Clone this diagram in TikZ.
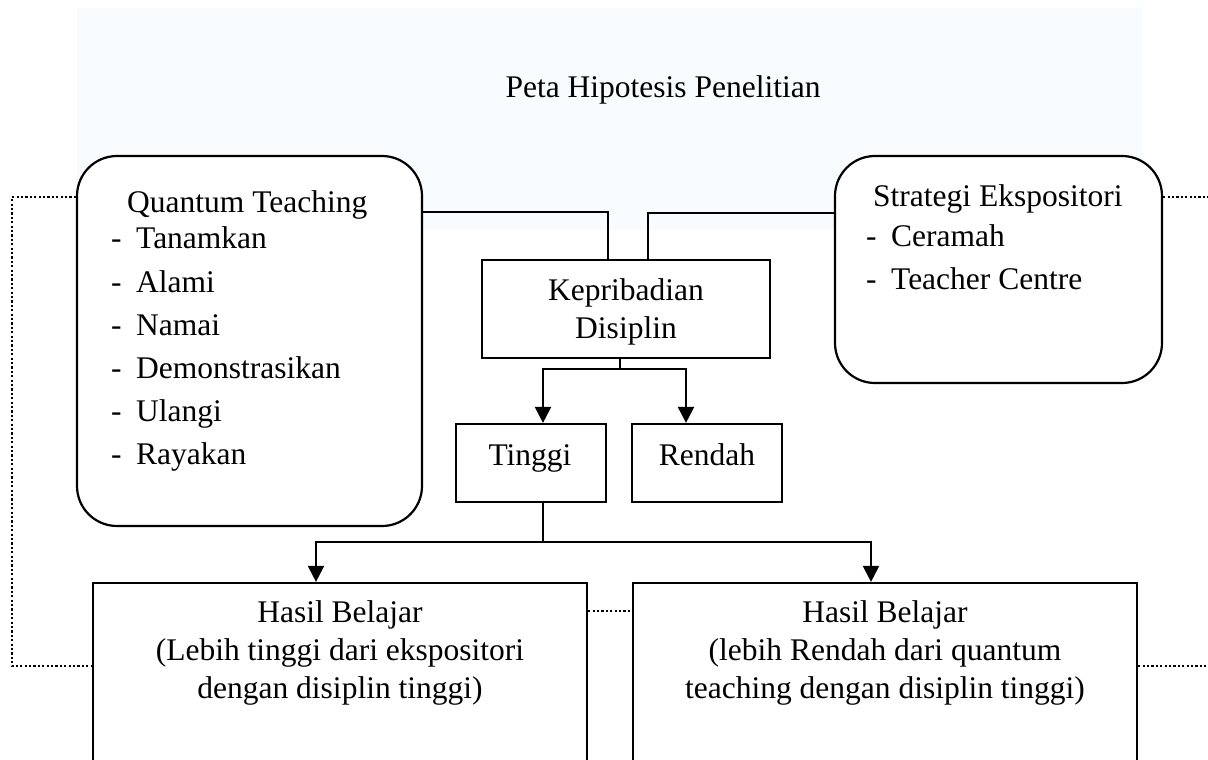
\documentclass[tikz,border=0pt]{standalone}
\usepackage{fontspec}
\setmainfont{Liberation Serif}
\usetikzlibrary{arrows.meta}
\definecolor{bgblue}{RGB}{248,252,255}
\newcommand{\itm}[1]{\makebox[25pt][l]{-}#1}
\begin{document}
\begin{tikzpicture}[x=1pt,y=-1pt,
  box/.style={draw, line width=2.2pt, fill=white, inner sep=0pt},
  rbox/.style={box, rounded corners=40pt},
  txt/.style={font=\fontsize{31.5}{38}\selectfont, inner sep=0pt, anchor=base},
  ltxt/.style={txt, anchor=base west},
  conn/.style={line width=2.2pt},
  arr/.style={conn, -{Triangle[length=16pt,width=16pt]}},
  dot/.style={line width=2.4pt, dash pattern=on 2.2pt off 2.2pt},
]
\useasboundingbox (0,0) rectangle (1208,760);
\clip (0,0) rectangle (1208,760);
\fill[bgblue] (77,8) rectangle (1142,230);

% boxes
\node[rbox, minimum width=345pt, minimum height=370pt] (qt) at (249.5,341) {};
\node[rbox, minimum width=327pt, minimum height=227pt] (se) at (998.5,269.5) {};
\node[box, minimum width=288pt, minimum height=98pt] (kep) at (626,309) {};
\node[box, minimum width=150pt, minimum height=78pt] (tinggi) at (531,463) {};
\node[box, minimum width=150pt, minimum height=78pt] (rendah) at (707,463) {};
\node[box, minimum width=494pt, minimum height=217pt] (h1) at (340,691.5) {};
\node[box, minimum width=504pt, minimum height=217pt] (h2) at (885,691.5) {};

% texts
\node[txt] (title) at (663,98) {Peta Hipotesis Penelitian};
\node[ltxt] (qtt) at (127,212) {Quantum Teaching};
\node[ltxt] (q1) at (111,248) {\itm{Tanamkan}};
\node[ltxt] (q2) at (111,292) {\itm{Alami}};
\node[ltxt] (q3) at (111,335) {\itm{Namai}};
\node[ltxt] (q4) at (111,378) {\itm{Demonstrasikan}};
\node[ltxt] (q5) at (111,421) {\itm{Ulangi}};
\node[ltxt] (q6) at (111,464) {\itm{Rayakan}};
\node[ltxt] (set) at (873,206) {Strategi Ekspositori};
\node[ltxt] (s1) at (866,246) {\itm{Ceramah}};
\node[ltxt] (s2) at (866,289) {\itm{Teacher Centre}};
\node[txt] (kep1) at (626,300) {Kepribadian};
\node[txt] (kep2) at (626,338) {Disiplin};
\node[txt] (tt) at (530,465) {Tinggi};
\node[txt] (rt) at (707,465) {Rendah};
\node[txt] (h1a) at (340,622) {Hasil Belajar};
\node[txt] (h1b) at (340,660) {(Lebih tinggi dari ekspositori};
\node[txt] (h1c) at (340,698) {dengan disiplin tinggi)};
\node[txt] (h2a) at (885,622) {Hasil Belajar};
\node[txt] (h2b) at (885,660) {(lebih Rendah dari quantum};
\node[txt] (h2c) at (885,698) {teaching dengan disiplin tinggi)};

% solid connectors
\coordinate (kq) at (608,212);
\coordinate (ks) at (648,213);
\draw[conn] (qt.east |- kq) -- (kq) -- (kq |- kep.north);
\draw[conn] (se.west |- ks) -- (ks) -- (ks |- kep.north);
\coordinate (kb) at (620,369);
\draw[conn] (kep.south -| kb) -- (kb);
\draw[arr] (kb) -| ([xshift=12pt]tinggi.north);
\draw[arr] (kb) -| ([xshift=-21pt]rendah.north);
\coordinate (tb) at (543,542);
\draw[conn] ([xshift=12pt]tinggi.south) -- (tb);
\draw[arr] (tb) -| ([xshift=-24pt]h1.north);
\draw[arr] (tb) -| ([xshift=-14pt]h2.north);

% dotted connectors
\coordinate (dl1) at (12,197);
\coordinate (dl2) at (12,666);
\draw[dot] (qt.west |- dl1) -- (dl1) -- (dl2) -- (h1.west |- dl2);
\coordinate (dm) at (610,611);
\draw[dot] (h1.east |- dm) -- (h2.west |- dm);
\coordinate (dr1) at (1215,197);
\coordinate (dr2) at (1215,666);
\draw[dot] (se.east |- dr1) -- (dr1);
\draw[dot] (h2.east |- dr2) -- (dr2);
\end{tikzpicture}
\end{document}
